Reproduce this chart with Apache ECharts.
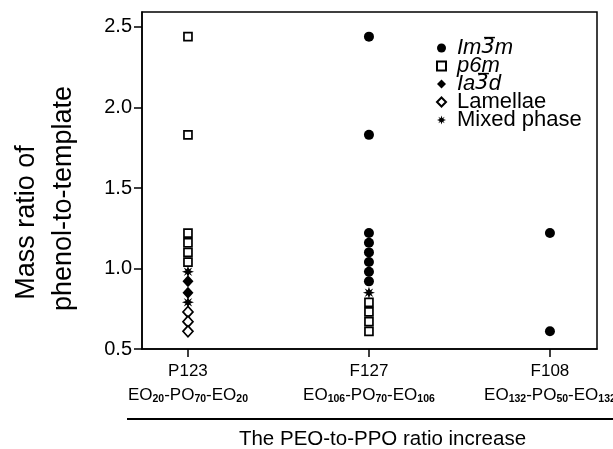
<!DOCTYPE html>
<html>
<head>
<meta charset="utf-8">
<script src="https://cdn.jsdelivr.net/npm/echarts@6/dist/echarts.min.js"></script>
<style>html,body{margin:0;padding:0;background:#fff;}#c{width:613px;height:449px;}</style>
</head>
<body>
<div id="c"></div>
<script>
// Categories (templates) and their sub-labels
var categories = ['P123', 'F127', 'F108'];
var catSub = [
  ['EO', '20', '-PO', '70', '-EO', '20'],
  ['EO', '106', '-PO', '70', '-EO', '106'],
  ['EO', '132', '-PO', '50', '-EO', '132']
];
var yTicks = [0.5, 1.0, 1.5, 2.0, 2.5];

// Mass ratio values per phase per template
var im3m_P123 = [];
var im3m_F127 = [2.44, 1.83, 1.22, 1.16, 1.10, 1.04, 0.98, 0.92];
var im3m_F108 = [1.22, 0.61];

var p6m_P123 = [2.44, 1.83, 1.22, 1.16, 1.10, 1.04];
var p6m_F127 = [0.79, 0.73, 0.67, 0.61];
var p6m_F108 = [];

var ia3d_P123 = [0.92, 0.85];
var ia3d_F127 = [];
var ia3d_F108 = [];

var lam_P123 = [0.73, 0.67, 0.61];
var lam_F127 = [];
var lam_F108 = [];

var mixed_P123 = [0.98, 0.79];
var mixed_F127 = [0.85];
var mixed_F108 = [];

var seriesNames = ['Im3m', 'p6m', 'Ia3d', 'Lamellae', 'Mixed phase'];
var legendRich = [
  '{i|Im}{t|3\u0305}{i|m}',
  '{i|p6m}',
  '{i|Ia}{t|3\u0305}{i|d}',
  'Lamellae',
  'Mixed phase'
];

function pts(a, b, c) {
  var out = [];
  [a, b, c].forEach(function (arr, i) { arr.forEach(function (v) { out.push([i, v]); }); });
  return out;
}

var asterisk = 'path://M10 0 L12 6 L17.07 2.93 L14 8 L20 10 L14 12 L17.07 17.07 L12 14 L10 20 L8 14 L2.93 17.07 L6 12 L0 10 L6 8 L2.93 2.93 L8 6 Z';

var FONT = 'Liberation Sans, Arial, sans-serif';
var chart = echarts.init(document.getElementById('c'), null, {renderer: 'canvas'});

var xRich = {
  n: {fontSize: 17, fontFamily: FONT, color: '#000', lineHeight: 24},
  m: {fontSize: 17, fontFamily: FONT, color: '#000', lineHeight: 24},
  s: {fontSize: 10.5, fontFamily: FONT, fontWeight: 'bold', color: '#000', lineHeight: 24, padding: [9, 0, 0, 0]}
};

var option = {
  animation: false,
  backgroundColor: '#fff',
  grid: {left: 142, right: 16, top: 12, bottom: 100, containLabel: false, outerBoundsMode: 'none',
    show: true, borderColor: '#000', borderWidth: 1.5, backgroundColor: 'transparent'},
  legend: {
    orient: 'vertical', left: 431, top: 32,
    itemWidth: 9, itemHeight: 9, itemGap: -4,
    data: seriesNames,
    textStyle: {fontSize: 22, fontFamily: FONT, color: '#000', lineHeight: 18, padding: [0, 0, 0, 6],
      rich: {
        i: {fontSize: 22, fontFamily: FONT, fontStyle: 'italic', color: '#000', lineHeight: 18},
        t: {fontSize: 21, fontFamily: 'DejaVu Sans', fontStyle: 'italic', color: '#000', lineHeight: 18}
      }},
    formatter: function (name) {
      return legendRich[seriesNames.indexOf(name)];
    }
  },
  xAxis: {
    type: 'value', min: -0.254, max: 2.26,
    axisLine: {show: true, onZero: false, lineStyle: {color: '#000', width: 1.5}},
    axisTick: {show: true, length: 8, customValues: [0, 1, 2], lineStyle: {color: '#000', width: 1.5}},
    splitLine: {show: false},
    axisLabel: {
      customValues: [0, 1, 2], margin: 10, color: '#000', rich: xRich,
      formatter: function (v) {
        var i = Math.round(v);
        var s = catSub[i];
        return '{n|' + categories[i] + '}\n{m|' + s[0] + '}{s|' + s[1] + '}{m|' + s[2] + '}{s|' + s[3] + '}{m|' + s[4] + '}{s|' + s[5] + '}';
      }
    },
    name: 'The PEO-to-PPO ratio increase', nameLocation: 'middle', nameGap: 80,
    nameTextStyle: {fontSize: 20.5, fontFamily: FONT, color: '#000', padding: [0, 0, 0, 26]}
  },
  yAxis: {
    type: 'value', min: 0.5, max: 2.593, interval: 0.5,
    axisLine: {show: true, onZero: false, lineStyle: {color: '#000', width: 1.5}},
    axisTick: {show: true, length: 8, lineStyle: {color: '#000', width: 1.5}},
    splitLine: {show: false},
    axisLabel: {
      margin: 10, fontSize: 20, fontFamily: FONT, color: '#000',
      showMaxLabel: false,
      formatter: function (v) { return yTicks.indexOf(Math.round(v * 10) / 10) >= 0 ? v.toFixed(1) : ''; }
    },
    name: '{a|Mass ratio of}\n{b|phenol-to-template}', nameLocation: 'middle', nameRotate: 90, nameGap: 60,
    nameTextStyle: {
      fontSize: 27, fontFamily: FONT, color: '#000',
      rich: {
        a: {fontSize: 27, fontFamily: FONT, color: '#000', lineHeight: 37, padding: [0, 84, 0, 0]},
        b: {fontSize: 27, fontFamily: FONT, color: '#000', lineHeight: 37, padding: [0, 36, 0, 0]}
      }
    }
  },
  series: [
    {name: seriesNames[0], type: 'scatter', symbol: 'circle', symbolSize: 10,
      itemStyle: {color: '#000', opacity: 1}, data: pts(im3m_P123, im3m_F127, im3m_F108), z: 3},
    {name: seriesNames[1], type: 'scatter', symbol: 'rect', symbolSize: 8,
      itemStyle: {color: '#fff', borderColor: '#000', borderWidth: 1.7, opacity: 1}, data: pts(p6m_P123, p6m_F127, p6m_F108), z: 2},
    {name: seriesNames[2], type: 'scatter', symbol: 'diamond', symbolSize: [11, 12],
      itemStyle: {color: '#000', opacity: 1}, data: pts(ia3d_P123, ia3d_F127, ia3d_F108), z: 2},
    {name: seriesNames[3], type: 'scatter', symbol: 'diamond', symbolSize: [10, 11],
      itemStyle: {color: '#fff', borderColor: '#000', borderWidth: 1.7, opacity: 1}, data: pts(lam_P123, lam_F127, lam_F108), z: 2},
    {name: seriesNames[4], type: 'scatter', symbol: asterisk, symbolSize: 12,
      itemStyle: {color: '#000', opacity: 1}, data: pts(mixed_P123, mixed_F127, mixed_F108), z: 4}
  ],
  graphic: [
    {type: 'line', shape: {x1: 127, y1: 419, x2: 613, y2: 419}, style: {stroke: '#000', lineWidth: 2}}
  ]
};
chart.setOption(option);
</script>
</body>
</html>
